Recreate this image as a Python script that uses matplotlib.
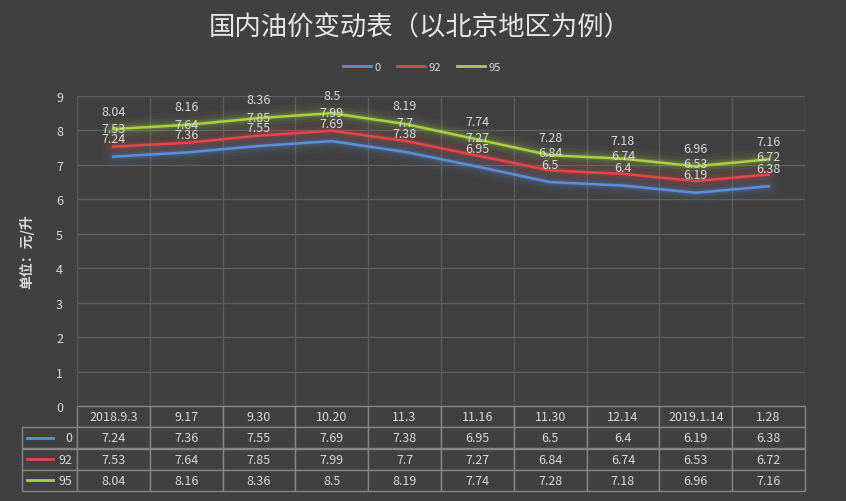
import matplotlib
matplotlib.use("Agg")
import matplotlib.pyplot as plt

plt.rcParams["font.family"] = ["Noto Sans CJK SC", "DejaVu Sans"]

dates = ["2018.9.3", "9.17", "9.30", "10.20", "11.3", "11.16", "11.30", "12.14", "2019.1.14", "1.28"]
names = ["0", "92", "95"]
oil_0 = [7.24, 7.36, 7.55, 7.69, 7.38, 6.95, 6.5, 6.4, 6.19, 6.38]
oil_92 = [7.53, 7.64, 7.85, 7.99, 7.7, 7.27, 6.84, 6.74, 6.53, 6.72]
oil_95 = [8.04, 8.16, 8.36, 8.5, 8.19, 7.74, 7.28, 7.18, 6.96, 7.16]
series = [oil_0, oil_92, oil_95]
colors = ["#5b8fd9", "#e0474c", "#a9d142"]

bg = "#404040"
txt = "#d9d9d9"
grid = "#5e5e5e"

W, H = 846, 502
fig = plt.figure(figsize=(W / 100, H / 100), dpi=100, facecolor=bg)
L, R, T, B = 77, 805, 97, 407
ax = fig.add_axes([L / W, 1 - B / H, (R - L) / W, (B - T) / H], facecolor=bg)

x = list(range(len(dates)))
for s, c in zip(series, colors):
    for lw, a in [(16, 0.04), (11, 0.06), (7, 0.09), (4, 0.16)]:
        ax.plot(x, s, color=c, lw=lw, alpha=a, solid_capstyle="round", zorder=2)
    ax.plot(x, s, color=c, lw=1.8, zorder=3)
    for i, v in enumerate(s):
        ax.annotate(f"{v:g}", (i, v), xytext=(0, 13), textcoords="offset points",
                    ha="center", va="center", color=txt, fontsize=9, zorder=4)

ax.set_xlim(-0.5, len(dates) - 0.5)
ax.set_ylim(0, 9)
ax.set_yticks(range(10))
ax.set_xticks([])
for k in range(10):
    ax.axhline(k, color=grid, lw=1, zorder=1)
for k in range(len(dates) + 1):
    ax.axvline(k - 0.5, color=grid, lw=1, zorder=1)
for sp in ax.spines.values():
    sp.set_visible(False)
ax.tick_params(axis="y", length=0, colors=txt, labelsize=9, pad=10)

ax.set_ylabel("单位：元/升", color=txt, fontsize=10, fontweight="bold", labelpad=16)

# data table
cell_text = [[""] + [f"{v:g}" for v in s] for s in series]
col_w = [55 / 728] + [1 / 10] * 10
tbl = ax.table(cellText=cell_text, colLabels=[""] + dates, colWidths=col_w,
               cellLoc="center", bbox=[-55 / 728, -85 / 310, 783 / 728, 85 / 310])
tbl.auto_set_font_size(False)
tbl.set_fontsize(9)
for (r, c), cell in tbl.get_celld().items():
    cell.set_facecolor(bg)
    cell.set_edgecolor("#858585")
    cell.get_text().set_color(txt)
    if r == 0 and c == 0:
        cell.visible_edges = ""
tbl.get_celld()[(0, 0)].set_edgecolor(bg)

row_h = 85 / 310 / 4
for j, (n, c) in enumerate(zip(names, colors)):
    yc = -85 / 310 + row_h * (2.5 - j)
    ax.plot([-50 / 728, -24 / 728], [yc, yc], color=c, lw=2, transform=ax.transAxes, clip_on=False)
    ax.text(-5 / 728, yc, n, color=txt, fontsize=9, ha="right", va="center", transform=ax.transAxes)

fig.text(420 / W, 1 - 28 / H, "国内油价变动表（以北京地区为例）", ha="center", va="center",
         color="#e6e6e6", fontsize=19)

# legend
handles = [plt.Line2D([], [], color=c, lw=2) for c in colors]
fig.legend(handles, names, loc="center", bbox_to_anchor=(422 / W, 1 - 68 / H), ncol=3,
           frameon=False, fontsize=8, labelcolor=txt, handlelength=2.5, columnspacing=1.5,
           handletextpad=0.3)

fig.savefig("out.png", dpi=100, facecolor=bg)
